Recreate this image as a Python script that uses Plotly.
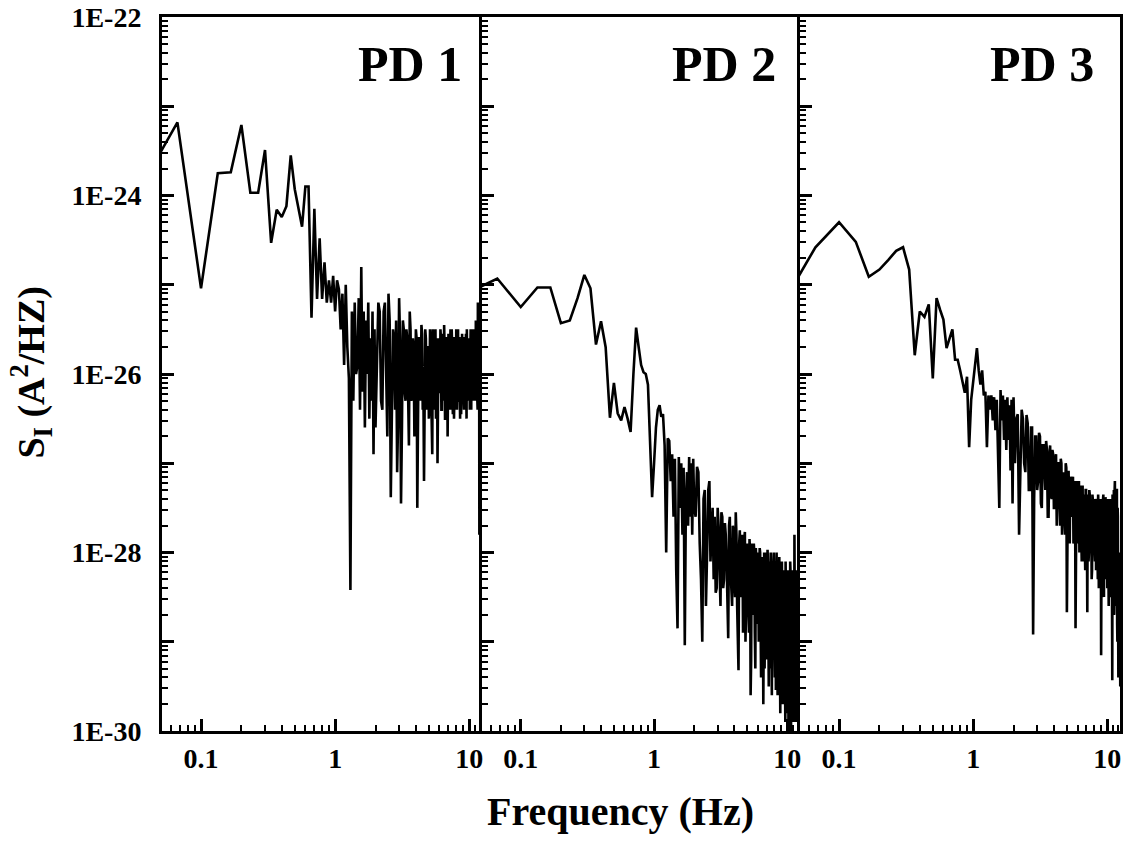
import plotly.graph_objects as go

# ---------------- data ----------------
# frequency grids (Hz): 1/30 Hz steps up to 2 Hz, then 0.1 Hz steps on two offset grids
freq_low = [k / 30 for k in range(1, 61)]
freq_high = [round(2.1 + 0.1 * i, 2) for i in range(105)]
freq_mid = [round(2.05 + 0.1 * i, 2) for i in range(105)]

# spectral density values, given as log10(S_I [A^2/Hz])
pd1_low = [-23.98, -23.18, -25.04, -23.75, -23.74, -23.21, -23.97, -23.97, -23.49, -24.53,
           -24.16, -24.24, -24.12, -23.55, -23.93, -24.17, -24.35, -23.9, -23.9, -25.37,
           -24.15, -25.16, -24.48, -25.16, -24.75, -25.2, -24.95, -25.2, -24.9, -25.3,
           -24.95, -25.05, -25.5, -25.1, -25.9, -25.0, -25.7, -26.05, -28.42, -25.3,
           -26.3, -25.2, -26.0, -25.9, -25.15, -26.4, -24.8, -26.2, -25.3, -26.6,
           -25.4, -26.0, -25.2, -26.5, -25.6, -26.3, -25.3, -26.9, -25.5, -26.6]
pd1_high = [-25.2, -26.3, -25.3, -26.1, -25.1, -27.38, -25.5, -26.4, -27.1, -25.15,
            -27.45, -25.4, -26.2, -25.5, -26.5, -25.3, -26.3, -25.6, -26.7, -25.5,
            -27.5, -25.6, -26.2, -25.45, -26.4, -27.2, -25.5, -26.3, -25.7, -26.5,
            -25.5, -26.2, -26.9, -25.6, -26.4, -25.5, -26.3, -27.0, -25.6, -26.2,
            -25.5, -26.4, -25.7, -26.1, -25.45, -26.5, -25.6, -26.3, -26.7, -25.55,
            -26.3, -25.7, -26.4, -25.5, -26.2, -25.6, -26.5, -25.7, -26.1, -25.5,
            -26.4, -25.65, -26.3, -25.6, -26.2, -25.7, -26.45, -25.55, -26.2, -25.7,
            -26.3, -25.6, -26.4, -25.7, -26.1, -25.5, -26.3, -25.65, -26.2, -25.6,
            -26.4, -25.7, -26.2, -25.5, -26.3, -25.6, -26.1, -25.5, -26.3, -25.6,
            -26.2, -25.4, -26.1, -25.6, -26.3, -25.2, -26.0, -25.4, -27.8, -25.3,
            -26.0, -25.5, -26.1, -25.6, -25.9]
pd1_mid = [-26.0, -25.3, -26.4, -25.2, -26.7, -25.4, -26.2, -25.6, -25.4, -26.5,
           -25.6, -26.6, -25.5, -26.3, -25.6, -26.8, -25.5, -26.2, -25.7, -26.4,
           -25.6, -26.5, -25.6, -26.3, -25.55, -26.1, -26.5, -25.6, -26.4, -25.7,
           -26.3, -25.6, -26.6, -25.5, -26.2, -25.7, -26.5, -25.6, -26.3, -25.6,
           -26.2, -25.6, -26.4, -25.55, -26.3, -25.7, -26.5, -25.6, -25.8, -26.2,
           -25.6, -26.4, -25.5, -26.2, -25.65, -26.45, -25.6, -26.2, -25.6, -26.4,
           -25.7, -26.2, -25.5, -26.3, -25.6, -26.5, -25.7, -26.1, -25.55, -26.3,
           -25.6, -26.4, -25.6, -26.2, -25.55, -26.5, -25.7, -26.1, -25.6, -26.3,
           -25.65, -26.3, -25.5, -26.4, -25.6, -26.2, -25.55, -26.3, -25.7, -26.2,
           -25.5, -26.3, -25.6, -26.2, -25.4, -26.4, -25.6, -26.1, -25.3, -26.2,
           -25.5, -26.2, -25.4, -26.0, -25.7]

pd2_low = [-25.15, -24.93, -25.25, -25.03, -25.03, -25.43, -25.4, -25.15, -24.89, -25.04,
           -25.67, -25.41, -25.7, -26.49, -26.1, -26.44, -26.52, -26.37, -26.5, -26.65,
           -26.0, -25.48, -25.7, -25.9, -25.98, -26.0, -26.12, -26.8, -27.38, -27.0,
           -26.6, -26.4, -26.35, -26.48, -26.45, -26.8, -28.0, -26.72, -26.75, -27.2,
           -26.9, -27.6, -26.95, -28.2, -28.85, -26.93, -27.5, -27.0, -27.8, -27.05,
           -29.04, -27.41, -27.1, -27.7, -26.93, -27.6, -27.0, -27.8, -26.95, -27.5]
pd2_high = [-27.04, -27.9, -29.0, -27.3, -28.0, -27.2, -27.78, -28.3, -28.45, -27.5,
            -28.2, -27.55, -28.4, -27.67, -28.1, -28.96, -27.6, -28.5, -27.7, -28.3,
            -27.55, -28.6, -29.32, -27.75, -28.4, -27.8, -28.7, -27.77, -28.5, -27.9,
            -28.8, -27.85, -29.6, -27.95, -28.6, -27.9, -28.9, -27.95, -28.7, -28.0,
            -29.0, -27.95, -28.8, -28.05, -29.1, -29.7, -28.0, -28.9, -28.1, -29.2,
            -27.97, -28.8, -28.1, -29.3, -28.0, -29.0, -28.15, -29.2, -28.0, -29.1,
            -28.1, -29.54, -28.0, -29.0, -28.2, -29.3, -28.05, -29.1, -28.3, -29.4,
            -28.1, -29.2, -28.2, -29.6, -28.3, -29.3, -28.1, -29.5, -28.3, -29.8,
            -28.2, -30.3, -28.4, -29.4, -28.1, -29.7, -28.3, -29.5, -28.2, -29.9,
            -28.4, -29.6, -27.8, -29.8, -28.3, -29.5, -28.4, -29.9, -28.2, -29.6,
            -28.3, -29.4, -28.5, -29.7, -28.4]
pd2_mid = [-27.6, -27.1, -28.3, -27.4, -28.6, -27.3, -28.1, -27.5, -27.6, -28.4,
           -27.7, -28.6, -27.6, -28.3, -27.8, -28.5, -27.7, -28.2, -28.6, -27.8,
           -28.5, -27.8, -28.9, -27.9, -28.5, -28.0, -28.9, -27.85, -29.0, -28.0,
           -28.4, -28.9, -28.0, -29.2, -27.9, -28.7, -28.0, -29.3, -28.1, -28.8,
           -28.1, -28.6, -28.0, -29.4, -28.2, -28.7, -28.1, -29.3, -28.0, -28.8,
           -28.9, -28.1, -29.5, -28.2, -28.9, -28.1, -29.6, -28.3, -29.0, -28.2,
           -29.4, -28.2, -29.1, -28.3, -29.6, -28.1, -29.3, -28.4, -29.8, -28.2,
           -29.3, -28.4, -29.7, -28.2, -29.4, -28.3, -29.9, -28.4, -29.5, -28.2,
           -29.6, -28.3, -29.8, -28.5, -29.3, -28.2, -30.2, -28.4, -29.6, -28.3,
           -29.7, -28.5, -29.4, -28.3, -29.9, -28.4, -29.5, -28.2, -29.8, -28.4,
           -29.5, -28.3, -29.8, -28.5, -29.3]

pd3_low = [-25.36, -24.58, -24.3, -24.52, -24.91, -24.83, -24.72, -24.62, -24.58, -24.83,
           -25.79, -25.3, -25.36, -25.22, -26.05, -25.15, -25.28, -25.39, -25.71, -25.6,
           -25.5, -25.84, -25.84, -25.96, -26.07, -26.21, -26.03, -26.82, -26.29, -26.07,
           -25.9, -25.71, -25.96, -26.12, -25.96, -26.24, -26.2, -26.82, -26.24, -26.4,
           -26.24, -26.52, -26.26, -26.63, -26.29, -26.96, -27.5, -26.18, -26.52, -26.24,
           -26.74, -26.29, -26.85, -26.26, -26.74, -26.35, -27.08, -26.29, -27.45, -26.26]
pd3_high = [-26.5, -27.8, -26.4, -27.0, -26.46, -27.3, -26.6, -28.92, -26.7, -27.3,
            -26.66, -27.45, -26.8, -27.2, -26.75, -27.6, -26.9, -27.35, -26.85, -27.5,
            -26.95, -27.7, -27.0, -27.4, -26.95, -27.8, -27.1, -27.5, -27.0, -28.67,
            -27.1, -27.8, -27.15, -27.6, -27.2, -27.9, -27.25, -28.85, -27.2, -27.7,
            -27.3, -28.0, -27.25, -27.8, -27.3, -28.1, -27.35, -27.9, -27.3, -28.0,
            -28.67, -27.4, -28.0, -27.35, -27.9, -27.45, -28.2, -27.4, -28.0, -27.5,
            -28.1, -27.45, -28.0, -27.4, -28.3, -27.5, -27.95, -27.4, -28.2, -29.15,
            -27.5, -28.1, -27.4, -28.3, -27.5, -28.0, -27.38, -28.2, -27.5, -28.4,
            -27.45, -28.1, -27.5, -28.5, -27.4, -28.2, -27.5, -28.4, -29.43, -27.4,
            -28.3, -27.3, -28.5, -27.2, -28.2, -27.4, -28.6, -27.3, -29.0, -27.6,
            -29.4, -28.0, -29.3, -28.2, -29.5]
pd3_mid = [-27.0, -26.45, -27.2, -26.5, -27.1, -26.55, -27.3, -26.6, -27.4, -26.7,
           -27.2, -26.7, -27.5, -26.8, -27.3, -26.85, -27.6, -26.8, -27.4, -26.9,
           -27.5, -26.9, -27.3, -27.0, -27.7, -27.0, -27.5, -27.1, -27.8, -27.05,
           -27.6, -27.1, -27.9, -27.2, -27.5, -27.15, -27.8, -27.2, -27.6, -27.25,
           -27.9, -27.2, -27.7, -27.3, -28.1, -27.25, -27.8, -27.35, -28.2, -27.3,
           -27.8, -27.35, -28.1, -27.3, -27.9, -27.4, -28.3, -27.35, -27.8, -27.45,
           -28.0, -27.4, -28.2, -27.5, -27.9, -27.35, -28.4, -27.45, -28.0, -27.4,
           -28.2, -27.45, -28.0, -27.35, -28.5, -27.4, -28.1, -27.5, -28.3, -27.4,
           -28.0, -27.5, -28.6, -27.4, -28.1, -27.45, -28.3, -27.4, -28.5, -27.35,
           -28.2, -27.4, -28.7, -27.3, -28.1, -27.5, -28.4, -27.3, -28.8, -27.5,
           -28.6, -28.1, -29.2, -28.3, -29.0]

panel_labels = ["PD 1", "PD 2", "PD 3"]

x_tick_vals = [0.1, 1, 10]
x_tick_text = ["0.1", "1", "10"]
x_minor_vals = [0.06, 0.07, 0.08, 0.09, 0.2, 0.3, 0.4, 0.5, 0.6, 0.7, 0.8, 0.9,
                2, 3, 4, 5, 6, 7, 8, 9, 11, 12]
y_label_exps = [-30, -28, -26, -24, -22]
y_label_text = ["1E-30", "1E-28", "1E-26", "1E-24", "1E-22"]
y_unlabeled_exps = [-29, -27, -25, -23]

# ---------------- figure ----------------
FONT = "Liberation Serif"
series = [(pd1_low, pd1_high, pd1_mid), (pd2_low, pd2_high, pd2_mid),
          (pd3_low, pd3_high, pd3_mid)]
domains = [[0.0, 0.334], [0.334, 0.666], [0.666, 1.0]]

fig = go.Figure()
for i, (lo, hi, mid) in enumerate(series):
    sfx = "" if i == 0 else str(i + 1)
    pts = sorted(list(zip(freq_low, lo)) + list(zip(freq_high, hi)) + list(zip(freq_mid, mid)))
    fig.add_trace(go.Scatter(
        x=[p[0] for p in pts], y=[10 ** p[1] for p in pts], mode="lines",
        line=dict(color="black", width=2.6), showlegend=False,
        xaxis="x" + sfx, yaxis="y" + sfx, hoverinfo="skip"))

all_exps = sorted(y_label_exps + y_unlabeled_exps)
y_all_vals = [10.0 ** e for e in all_exps]
y_minor_vals = [m * 10.0 ** e for e in all_exps[:-1] for m in range(2, 10)]
minor_y = dict(tickvals=y_minor_vals, ticks="inside", ticklen=6,
               tickwidth=2, tickcolor="black", showgrid=False)

layout = dict(
    width=1127, height=843, autosize=False,
    margin=dict(l=162, r=7, t=17, b=112, autoexpand=False),
    paper_bgcolor="white", plot_bgcolor="white",
    showlegend=False,
)
for i in range(3):
    sfx = "" if i == 0 else str(i + 1)
    layout["xaxis" + sfx] = dict(
        type="log", domain=domains[i], range=[-1.291, 1.095],
        anchor="y" + sfx, showline=True, linewidth=3, linecolor="black",
        mirror=True, showgrid=False, zeroline=False, automargin=False,
        ticks="inside", tickvals=x_tick_vals, ticktext=x_tick_text,
        ticklen=12, tickwidth=2.5, tickcolor="black",
        ticklabelstandoff=0,
        tickfont=dict(family=FONT, size=28, color="black", weight="bold"),
        minor=dict(tickvals=x_minor_vals, ticks="inside", ticklen=6,
                   tickwidth=2, tickcolor="black", showgrid=False),
    )
    yax = dict(
        type="log", range=[-30, -22], domain=[0, 1],
        anchor="x" + sfx, showline=True, linewidth=3, linecolor="black",
        mirror=(i == 2), showgrid=False, zeroline=False, automargin=False,
        ticks="inside", ticklen=12, tickwidth=2.5, tickcolor="black",
        minor=minor_y,
    )
    if i == 0:
        yax.update(tickvals=[10.0 ** e for e in y_label_exps], ticktext=y_label_text,
                   showticklabels=True, ticklabelstandoff=12,
                   tickfont=dict(family=FONT, size=28, color="black", weight="bold"))
    else:
        yax.update(tickvals=y_all_vals, showticklabels=False, matches="y")
    layout["yaxis" + sfx] = yax

# extra unlabeled long ticks at odd decades for the first panel
layout["yaxis4"] = dict(
    type="log", range=[-30, -22], overlaying="y", anchor="x", side="left",
    showline=False, showgrid=False, zeroline=False, automargin=False,
    ticks="inside", tickvals=[10.0 ** e for e in y_unlabeled_exps],
    ticklen=12, tickwidth=2.5, tickcolor="black", showticklabels=False,
)

fig.update_layout(**layout)
# invisible helper trace so the overlay axis is drawn
fig.add_trace(go.Scatter(x=[1], y=[1e-26], yaxis="y4", xaxis="x", mode="markers",
                         marker=dict(opacity=0), showlegend=False, hoverinfo="skip"))

label_x = [0.3152, 0.643, 0.975]
for i, txt in enumerate(panel_labels):
    fig.add_annotation(
        text=txt, xref="paper", yref="paper", x=label_x[i], y=0.934,
        xanchor="right", yanchor="middle", showarrow=False,
        font=dict(family=FONT, size=50, color="black", weight="bold"))

fig.add_annotation(
    text="Frequency (Hz)", xref="paper", yref="paper", x=0.479, y=-0.113,
    xanchor="center", yanchor="middle", showarrow=False,
    font=dict(family=FONT, size=40, color="black", weight="bold"))

fig.add_annotation(
    text="S<sub>I</sub> (A<sup>2</sup>/HZ)", xref="paper", yref="paper",
    x=-0.137, y=0.503, xanchor="center", yanchor="middle", textangle=-90,
    showarrow=False,
    font=dict(family=FONT, size=38, color="black", weight="bold"))

fig.write_html("out.html", config={"displayModeBar": False},
               post_script="document.body.style.margin='0px';")
